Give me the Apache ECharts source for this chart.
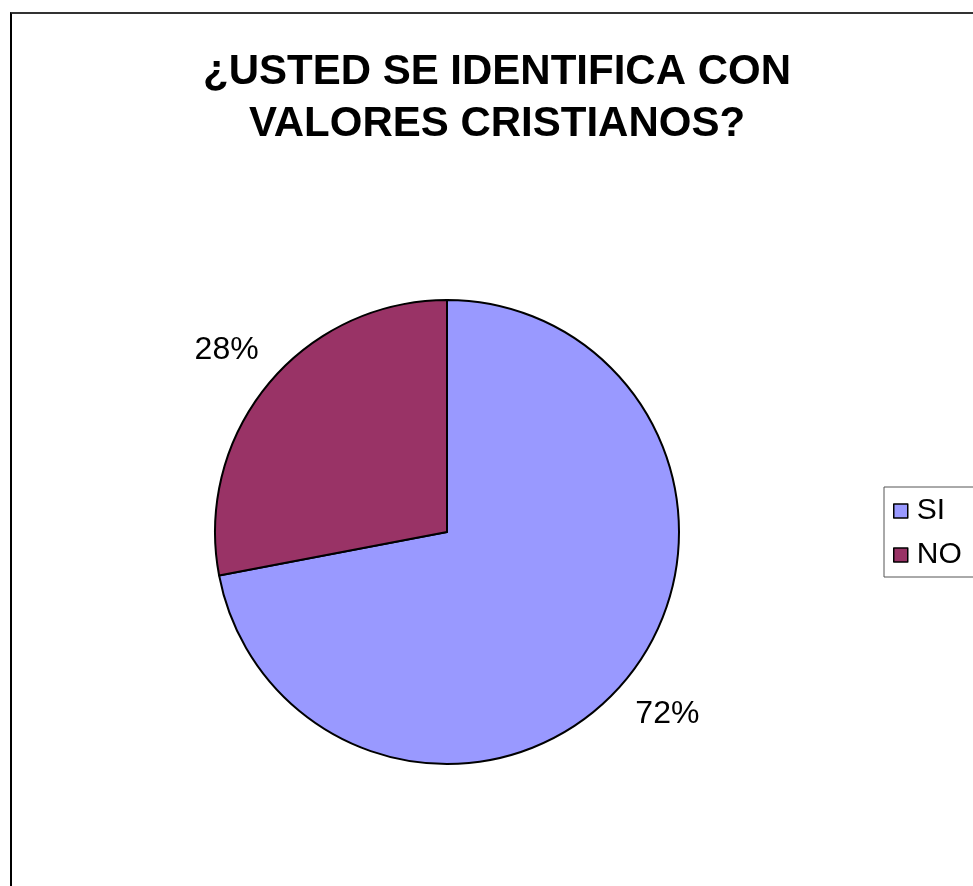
<!DOCTYPE html>
<html>
<head>
<meta charset="utf-8">
<script src="https://cdn.jsdelivr.net/npm/echarts@6/dist/echarts.min.js"></script>
<style>
  html, body { margin: 0; padding: 0; background: #fff; overflow: hidden; }
  #frame {
    position: absolute; left: 10px; top: 12px;
    width: 1000px; height: 1000px;
    border: 2px solid #000; border-top-color: #333;
  }
  #chart { position: absolute; left: 0; top: 0; width: 973px; height: 886px; }
</style>
</head>
<body>
<div id="frame"></div>
<div id="chart"></div>
<script>
// Survey answers and their shares (percent)
const categories = ['SI', 'NO'];
const shares = [72, 28];
const sliceColors = ['#9999FF', '#993366'];
const titleText = '¿USTED SE IDENTIFICA CON\nVALORES CRISTIANOS?';

const FONT = "'Liberation Sans', Arial, Helvetica, sans-serif";

const chart = echarts.init(document.getElementById('chart'), null, { renderer: 'canvas' });

chart.setOption({
  backgroundColor: 'transparent',
  animation: false,
  title: {
    text: titleText,
    left: 497,
    top: 46,
    textAlign: 'center',
    padding: 0,
    textStyle: {
      fontFamily: FONT,
      fontWeight: 'bold',
      fontSize: 42,
      lineHeight: 52,
      color: '#000'
    }
  },
  legend: {
    orient: 'vertical',
    left: 884,
    top: 487,
    padding: [9, 12, 7, 9],
    itemGap: 14,
    itemWidth: 14,
    itemHeight: 14,
    icon: 'rect',
    borderColor: '#555',
    borderWidth: 1,
    data: categories,
    itemStyle: { borderColor: '#000', borderWidth: 1.5 },
    textStyle: { fontFamily: FONT, fontSize: 30, color: '#000', padding: [0, 0, 0, 4] }
  },
  series: [{
    type: 'pie',
    center: [447, 532],
    radius: 232,
    startAngle: 90,
    clockwise: true,
    avoidLabelOverlap: false,
    itemStyle: { borderColor: '#000', borderWidth: 2 },
    label: {
      show: true,
      position: 'outside',
      fontFamily: FONT,
      fontSize: 32,
      color: '#000',
      formatter: p => p.value + '%'
    },
    labelLine: { show: true, length: 54, length2: 0, lineStyle: { opacity: 0 } },
    labelLayout: function (params) {
      const pts = params.labelLinePoints;
      if (!pts) return {};
      return { x: pts[1][0], y: pts[1][1], align: 'center', verticalAlign: 'middle' };
    },
    data: categories.map((name, i) => ({
      name: name,
      value: shares[i],
      itemStyle: { color: sliceColors[i] }
    }))
  }]
});
</script>
</body>
</html>
